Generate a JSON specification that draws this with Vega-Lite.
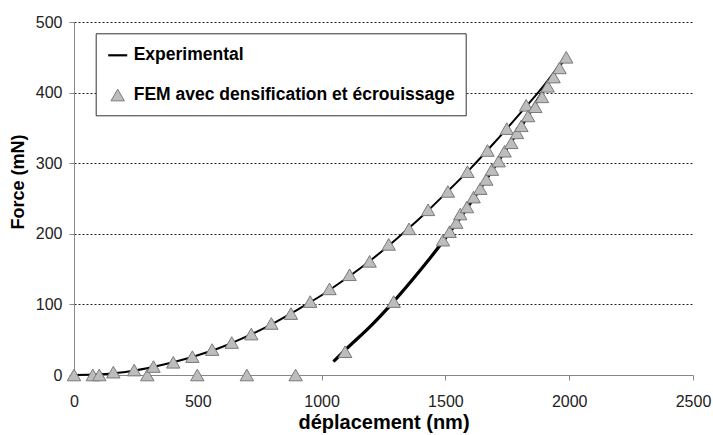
{
  "$schema": "https://vega.github.io/schema/vega-lite/v6.json",
  "width": 619,
  "height": 353,
  "autosize": {"type": "none"},
  "padding": {"left": 74, "top": 22, "right": 20, "bottom": 60},
  "background": "white",
  "config": {"font": "Liberation Sans", "view": {"stroke": null}},
  "datasets": {
    "exp_load": [
      {"x": 0, "y": 0}, {"x": 100, "y": 1}, {"x": 200, "y": 4}, {"x": 300, "y": 10},
      {"x": 400, "y": 18}, {"x": 500, "y": 28}, {"x": 600, "y": 40}, {"x": 700, "y": 55},
      {"x": 800, "y": 72}, {"x": 900, "y": 92}, {"x": 1000, "y": 113}, {"x": 1100, "y": 137},
      {"x": 1200, "y": 163}, {"x": 1300, "y": 192}, {"x": 1400, "y": 223}, {"x": 1500, "y": 257},
      {"x": 1600, "y": 292}, {"x": 1700, "y": 330}, {"x": 1800, "y": 370}, {"x": 1900, "y": 411},
      {"x": 1985, "y": 451}
    ],
    "exp_unload": [
      {"x": 1048, "y": 19}, {"x": 1100, "y": 37}, {"x": 1200, "y": 70}, {"x": 1291, "y": 104},
      {"x": 1400, "y": 149}, {"x": 1490, "y": 189}, {"x": 1600, "y": 243}, {"x": 1700, "y": 296},
      {"x": 1800, "y": 349}, {"x": 1900, "y": 405}, {"x": 1985, "y": 451}
    ],
    "fem": [
      {"x": 0, "y": 0, "series": "FEM avec densification et écrouissage"},
      {"x": 76, "y": 0, "series": "FEM avec densification et écrouissage"},
      {"x": 102, "y": 0, "series": "FEM avec densification et écrouissage"},
      {"x": 159, "y": 4, "series": "FEM avec densification et écrouissage"},
      {"x": 243, "y": 7, "series": "FEM avec densification et écrouissage"},
      {"x": 296, "y": 0, "series": "FEM avec densification et écrouissage"},
      {"x": 321, "y": 12, "series": "FEM avec densification et écrouissage"},
      {"x": 401, "y": 18, "series": "FEM avec densification et écrouissage"},
      {"x": 478, "y": 26, "series": "FEM avec densification et écrouissage"},
      {"x": 498, "y": 0, "series": "FEM avec densification et écrouissage"},
      {"x": 558, "y": 36, "series": "FEM avec densification et écrouissage"},
      {"x": 637, "y": 46, "series": "FEM avec densification et écrouissage"},
      {"x": 698, "y": 0, "series": "FEM avec densification et écrouissage"},
      {"x": 716, "y": 58, "series": "FEM avec densification et écrouissage"},
      {"x": 797, "y": 73, "series": "FEM avec densification et écrouissage"},
      {"x": 876, "y": 87, "series": "FEM avec densification et écrouissage"},
      {"x": 895, "y": 0, "series": "FEM avec densification et écrouissage"},
      {"x": 954, "y": 104, "series": "FEM avec densification et écrouissage"},
      {"x": 1032, "y": 122, "series": "FEM avec densification et écrouissage"},
      {"x": 1113, "y": 142, "series": "FEM avec densification et écrouissage"},
      {"x": 1194, "y": 161, "series": "FEM avec densification et écrouissage"},
      {"x": 1271, "y": 185, "series": "FEM avec densification et écrouissage"},
      {"x": 1353, "y": 207, "series": "FEM avec densification et écrouissage"},
      {"x": 1430, "y": 234, "series": "FEM avec densification et écrouissage"},
      {"x": 1510, "y": 260, "series": "FEM avec densification et écrouissage"},
      {"x": 1589, "y": 288, "series": "FEM avec densification et écrouissage"},
      {"x": 1670, "y": 318, "series": "FEM avec densification et écrouissage"},
      {"x": 1748, "y": 349, "series": "FEM avec densification et écrouissage"},
      {"x": 1826, "y": 382, "series": "FEM avec densification et écrouissage"},
      {"x": 1095, "y": 33, "series": "FEM avec densification et écrouissage"},
      {"x": 1291, "y": 104, "series": "FEM avec densification et écrouissage"},
      {"x": 1490, "y": 191, "series": "FEM avec densification et écrouissage"},
      {"x": 1517, "y": 203, "series": "FEM avec densification et écrouissage"},
      {"x": 1544, "y": 216, "series": "FEM avec densification et écrouissage"},
      {"x": 1560, "y": 228, "series": "FEM avec densification et écrouissage"},
      {"x": 1587, "y": 238, "series": "FEM avec densification et écrouissage"},
      {"x": 1614, "y": 252, "series": "FEM avec densification et écrouissage"},
      {"x": 1641, "y": 264, "series": "FEM avec densification et écrouissage"},
      {"x": 1665, "y": 277, "series": "FEM avec densification et écrouissage"},
      {"x": 1688, "y": 291, "series": "FEM avec densification et écrouissage"},
      {"x": 1715, "y": 303, "series": "FEM avec densification et écrouissage"},
      {"x": 1739, "y": 317, "series": "FEM avec densification et écrouissage"},
      {"x": 1766, "y": 329, "series": "FEM avec densification et écrouissage"},
      {"x": 1789, "y": 343, "series": "FEM avec densification et écrouissage"},
      {"x": 1807, "y": 353, "series": "FEM avec densification et écrouissage"},
      {"x": 1834, "y": 367, "series": "FEM avec densification et écrouissage"},
      {"x": 1863, "y": 380, "series": "FEM avec densification et écrouissage"},
      {"x": 1890, "y": 394, "series": "FEM avec densification et écrouissage"},
      {"x": 1913, "y": 409, "series": "FEM avec densification et écrouissage"},
      {"x": 1937, "y": 422, "series": "FEM avec densification et écrouissage"},
      {"x": 1961, "y": 435, "series": "FEM avec densification et écrouissage"},
      {"x": 1988, "y": 450, "series": "FEM avec densification et écrouissage"}
    ]
  },
  "encoding": {
    "x": {
      "field": "x", "type": "quantitative",
      "scale": {"domain": [0, 2500], "nice": false},
      "axis": {
        "title": "déplacement (nm)",
        "values": [0, 500, 1000, 1500, 2000, 2500],
        "format": "d", "labelFlush": false,
        "grid": false,
        "domainColor": "#888888", "tickColor": "#888888", "tickSize": 5,
        "labelFontSize": 16, "labelColor": "#222222", "labelPadding": 13,
        "titleFontSize": 20, "titleFontWeight": "bold", "titleColor": "black", "titlePadding": 3
      }
    },
    "y": {
      "field": "y", "type": "quantitative",
      "scale": {"domain": [0, 500], "nice": false},
      "axis": {
        "title": "Force (mN)",
        "values": [0, 100, 200, 300, 400, 500],
        "format": "d", "labelFlush": false,
        "grid": true, "gridColor": "#222222", "gridDash": [2, 2], "gridWidth": 1,
        "domainColor": "#888888", "tickColor": "#888888", "tickSize": 5,
        "labelFontSize": 16, "labelColor": "#222222", "labelPadding": 7,
        "titleFontSize": 18, "titleFontWeight": "bold", "titleColor": "black",
        "titlePadding": 8, "titleY": 159.5
      }
    }
  },
  "layer": [
    {
      "data": {"name": "exp_load"},
      "mark": {"type": "line", "color": "black", "strokeWidth": 2, "interpolate": "monotone"},
      "encoding": {}
    },
    {
      "data": {"name": "exp_unload"},
      "mark": {"type": "line", "color": "black", "strokeWidth": 3.2, "interpolate": "monotone"},
      "encoding": {}
    },
    {
      "data": {"name": "fem"},
      "mark": {"type": "point", "filled": true, "opacity": 1},
      "encoding": {
        "color": {
          "field": "series", "type": "nominal",
          "scale": {"domain": ["Experimental", "FEM avec densification et écrouissage"], "range": ["black", "#bdbdbd"]},
          "legend": {
            "orient": "none", "legendX": 21.7, "legendY": 11.3, "direction": "vertical",
            "title": null, "fillColor": "white", "strokeColor": "#333333", "padding": 11,
            "labelFont": "Liberation Sans", "labelFontSize": 17.5, "labelFontWeight": "bold", "labelColor": "black",
            "labelOffset": 5, "labelLimit": 0, "rowPadding": 21, "symbolOpacity": 1
          }
        },
        "stroke": {
          "field": "series", "type": "nominal",
          "scale": {"domain": ["Experimental", "FEM avec densification et écrouissage"], "range": ["black", "#7a7a7a"]},
          "legend": {"title": null}
        },
        "strokeWidth": {
          "field": "series", "type": "nominal",
          "scale": {"domain": ["Experimental", "FEM avec densification et écrouissage"], "range": [2.2, 1]},
          "legend": {"title": null}
        },
        "size": {
          "field": "series", "type": "nominal",
          "scale": {"domain": ["Experimental", "FEM avec densification et écrouissage"], "range": [361, 180]},
          "legend": {"title": null}
        },
        "shape": {
          "field": "series", "type": "nominal",
          "scale": {"domain": ["Experimental", "FEM avec densification et écrouissage"], "range": ["stroke", "triangle-up"]},
          "legend": {"title": null}
        }
      }
    }
  ]
}
